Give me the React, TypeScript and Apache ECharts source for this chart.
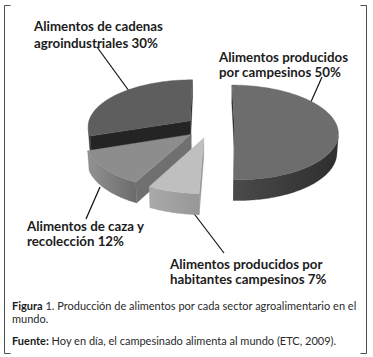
import React, { useEffect, useRef } from "react";
import * as echarts from "echarts";

// ---- data ----
const categories = [
  "Alimentos producidos\npor campesinos",
  "Alimentos producidos por\nhabitantes campesinos",
  "Alimentos de caza y\nrecolección",
  "Alimentos de cadenas\nagroindustriales",
];
const values = [50, 7, 12, 30];
const topColors = ["#6d6d6d", "#bfbfbf", "#8d8d8d", "#5e5e5e"];
const wallColorsLeft = ["#4a4a4a", "#a9a9a9", "#929292", "#444444"];
const wallColorsRight = ["#2e2e2e", "#979797", "#6b6b6b", "#333333"];
const sideColors = ["#2a2a2a", "#9a9a9a", "#707070", "#242424"];

// ---- 3D pie layout ----
const CX = 210;
const CY = 127;
const R = 103;
const BETA = (27 * Math.PI) / 180;
const DIST = 8;
const H = 0.21;
const EXPLODE = 0.237;
const SB = Math.sin(BETA);
const CB = Math.cos(BETA);
const CAM = [0, DIST * SB, -DIST * CB];

function proj(x: number, y: number, z: number): number[] {
  const d = z * CB - y * SB;
  const s = DIST / (DIST + d);
  return [CX + R * s * x, CY + R * s * (-z * SB - y * CB)];
}

// label layout: [x, y of first line center, line gap]
const labelPos: number[][] = [
  [219, 57, 15],
  [170, 264, 15],
  [27, 226, 15],
  [34, 26, 17],
];
// leader lines: [x1, y1, x2, y2]
const leaderLines: number[][] = [
  [322, 77, 310, 104],
  [192, 211, 224, 253],
  [100, 187, 86, 219],
  [97, 47, 129, 91],
];

const total = values.reduce((a, b) => a + b, 0);
const starts: number[] = [];
{
  let acc = 0;
  for (const v of values) {
    starts.push((acc / total) * Math.PI * 2);
    acc += v;
  }
}

function sliceDepthRank(): number[] {
  const depths = values.map((v, i) => {
    const a1 = starts[i];
    const a2 = a1 + (v / total) * Math.PI * 2;
    const mid = (a1 + a2) / 2;
    const z = (EXPLODE + 0.5) * Math.cos(mid);
    return z * CB;
  });
  const order = depths.map((d, i) => i).sort((a, b) => depths[b] - depths[a]);
  const rank: number[] = [];
  order.forEach((idx, r) => (rank[idx] = r));
  return rank;
}
const ranks = sliceDepthRank();

function renderSlice(params: any, api: any) {
  const i = params.dataIndex;
  const v = api.value(0);
  const a1 = starts[i];
  const a2 = a1 + (v / total) * Math.PI * 2;
  const mid = (a1 + a2) / 2;
  const ox = EXPLODE * Math.sin(mid);
  const oz = EXPLODE * Math.cos(mid);
  const base = 10 + ranks[i] * 10;
  const children: any[] = [];
  const steps = Math.max(4, Math.ceil(((a2 - a1) * 180) / Math.PI));
  const thetas: number[] = [];
  for (let k = 0; k <= steps; k++) thetas.push(a1 + ((a2 - a1) * k) / steps);

  const apexTop = proj(ox, 0, oz);
  const apexBot = proj(ox, -H, oz);
  const arcTop = thetas.map((t) => proj(ox + Math.sin(t), 0, oz + Math.cos(t)));
  const arcBot = thetas.map((t) => proj(ox + Math.sin(t), -H, oz + Math.cos(t)));

  // outer wall (visible part)
  const vis = thetas.map((t) => {
    const px = ox + Math.sin(t);
    const pz = oz + Math.cos(t);
    const dot = Math.sin(t) * (CAM[0] - px) + Math.cos(t) * (CAM[2] - pz);
    return dot > 0;
  });
  let first = -1;
  let last = -1;
  vis.forEach((f, k) => {
    if (f) {
      if (first < 0) first = k;
      last = k;
    }
  });
  if (first >= 0 && last > first) {
    const pts: number[][] = [];
    for (let k = first; k <= last; k++) pts.push(arcTop[k]);
    for (let k = last; k >= first; k--) pts.push(arcBot[k]);
    children.push({
      type: "polygon",
      z2: base,
      shape: { points: pts },
      style: {
        fill: {
          type: "linear",
          x: 0,
          y: 0,
          x2: 1,
          y2: 0,
          colorStops: [
            { offset: 0, color: wallColorsLeft[i] },
            { offset: 1, color: wallColorsRight[i] },
          ],
        },
        stroke: wallColorsRight[i],
        lineWidth: 0.3,
      },
    });
  }

  // radial faces
  const faceDefs = [
    { n: [-Math.cos(a1), Math.sin(a1)], top: arcTop[0], bot: arcBot[0] },
    { n: [Math.cos(a2), -Math.sin(a2)], top: arcTop[steps], bot: arcBot[steps] },
  ];
  faceDefs.forEach((f) => {
    const dot = f.n[0] * (CAM[0] - ox) + f.n[1] * (CAM[2] - oz);
    if (dot > 0) {
      children.push({
        type: "polygon",
        z2: base + 1,
        shape: { points: [apexTop, f.top, f.bot, apexBot] },
        style: { fill: sideColors[i], stroke: sideColors[i], lineWidth: 0.3 },
      });
    }
  });

  // top face
  children.push({
    type: "polygon",
    z2: base + 2,
    shape: { points: [apexTop, ...arcTop] },
    style: { fill: topColors[i], stroke: topColors[i], lineWidth: 0.4 },
  });

  return { type: "group", children };
}

const LABEL_FONT = "bold 13.3px Lato";
const CAPTION_FONT = "11px Lato";

export default function App() {
  const ref = useRef<HTMLDivElement>(null);
  useEffect(() => {
    if (!ref.current) return;
    const chart = echarts.init(ref.current, undefined, { renderer: "svg" });

    const graphics: any[] = [];
    // frame
    const frameColor = "#4d4d4d";
    const frame = [
      [4, 5, 4, 353],
      [4, 5, 10, 5],
      [4, 353, 10, 353],
      [366, 5, 366, 353],
      [360, 5, 366, 5],
      [360, 353, 366, 353],
    ];
    frame.forEach((l) =>
      graphics.push({
        type: "line",
        shape: { x1: l[0] + 0.5, y1: l[1] + 0.5, x2: l[2] + 0.5, y2: l[3] + 0.5 },
        style: { stroke: frameColor, lineWidth: 1 },
      })
    );

    // labels and leader lines
    categories.forEach((cat, i) => {
      const lines = cat.split("\n");
      lines[lines.length - 1] += ` ${values[i]}%`;
      const [lx, ly, gap] = labelPos[i];
      lines.forEach((t, k) =>
        graphics.push({
          type: "text",
          x: lx,
          y: ly + k * gap,
          style: {
            text: t,
            font: LABEL_FONT,
            fill: "#1c1c1c",
            align: "left",
            verticalAlign: "middle",
          },
        })
      );
      const ll = leaderLines[i];
      graphics.push({
        type: "line",
        shape: { x1: ll[0], y1: ll[1], x2: ll[2], y2: ll[3] },
        style: { stroke: "#111111", lineWidth: 1.2 },
      });
    });

    // caption
    const capRich = {
      b: { font: "bold 11px Lato", fill: "#1a1a1a" },
    };
    const caption = [
      { y: 305, text: "{b|Figura} 1. Producción de alimentos por cada sector agroalimentario en el" },
      { y: 318, text: "mundo." },
      { y: 340, text: "{b|Fuente:} Hoy en día, el campesinado alimenta al mundo (ETC, 2009)." },
    ];
    caption.forEach((c) =>
      graphics.push({
        type: "text",
        x: 12,
        y: c.y,
        style: {
          text: c.text,
          font: CAPTION_FONT,
          fill: "#2a2a2a",
          align: "left",
          verticalAlign: "middle",
          rich: capRich,
        },
      })
    );

    chart.setOption({
      animation: false,
      backgroundColor: "#ffffff",
      series: [
        {
          type: "custom",
          coordinateSystem: "none",
          silent: true,
          data: values.map((v, i) => ({ value: v, name: categories[i] })),
          renderItem: renderSlice,
        },
      ],
      graphic: { elements: graphics },
    });
    return () => chart.dispose();
  }, []);
  return <div ref={ref} style={{ width: 373, height: 357, position: "absolute", left: 0, top: 0 }} />;
}
